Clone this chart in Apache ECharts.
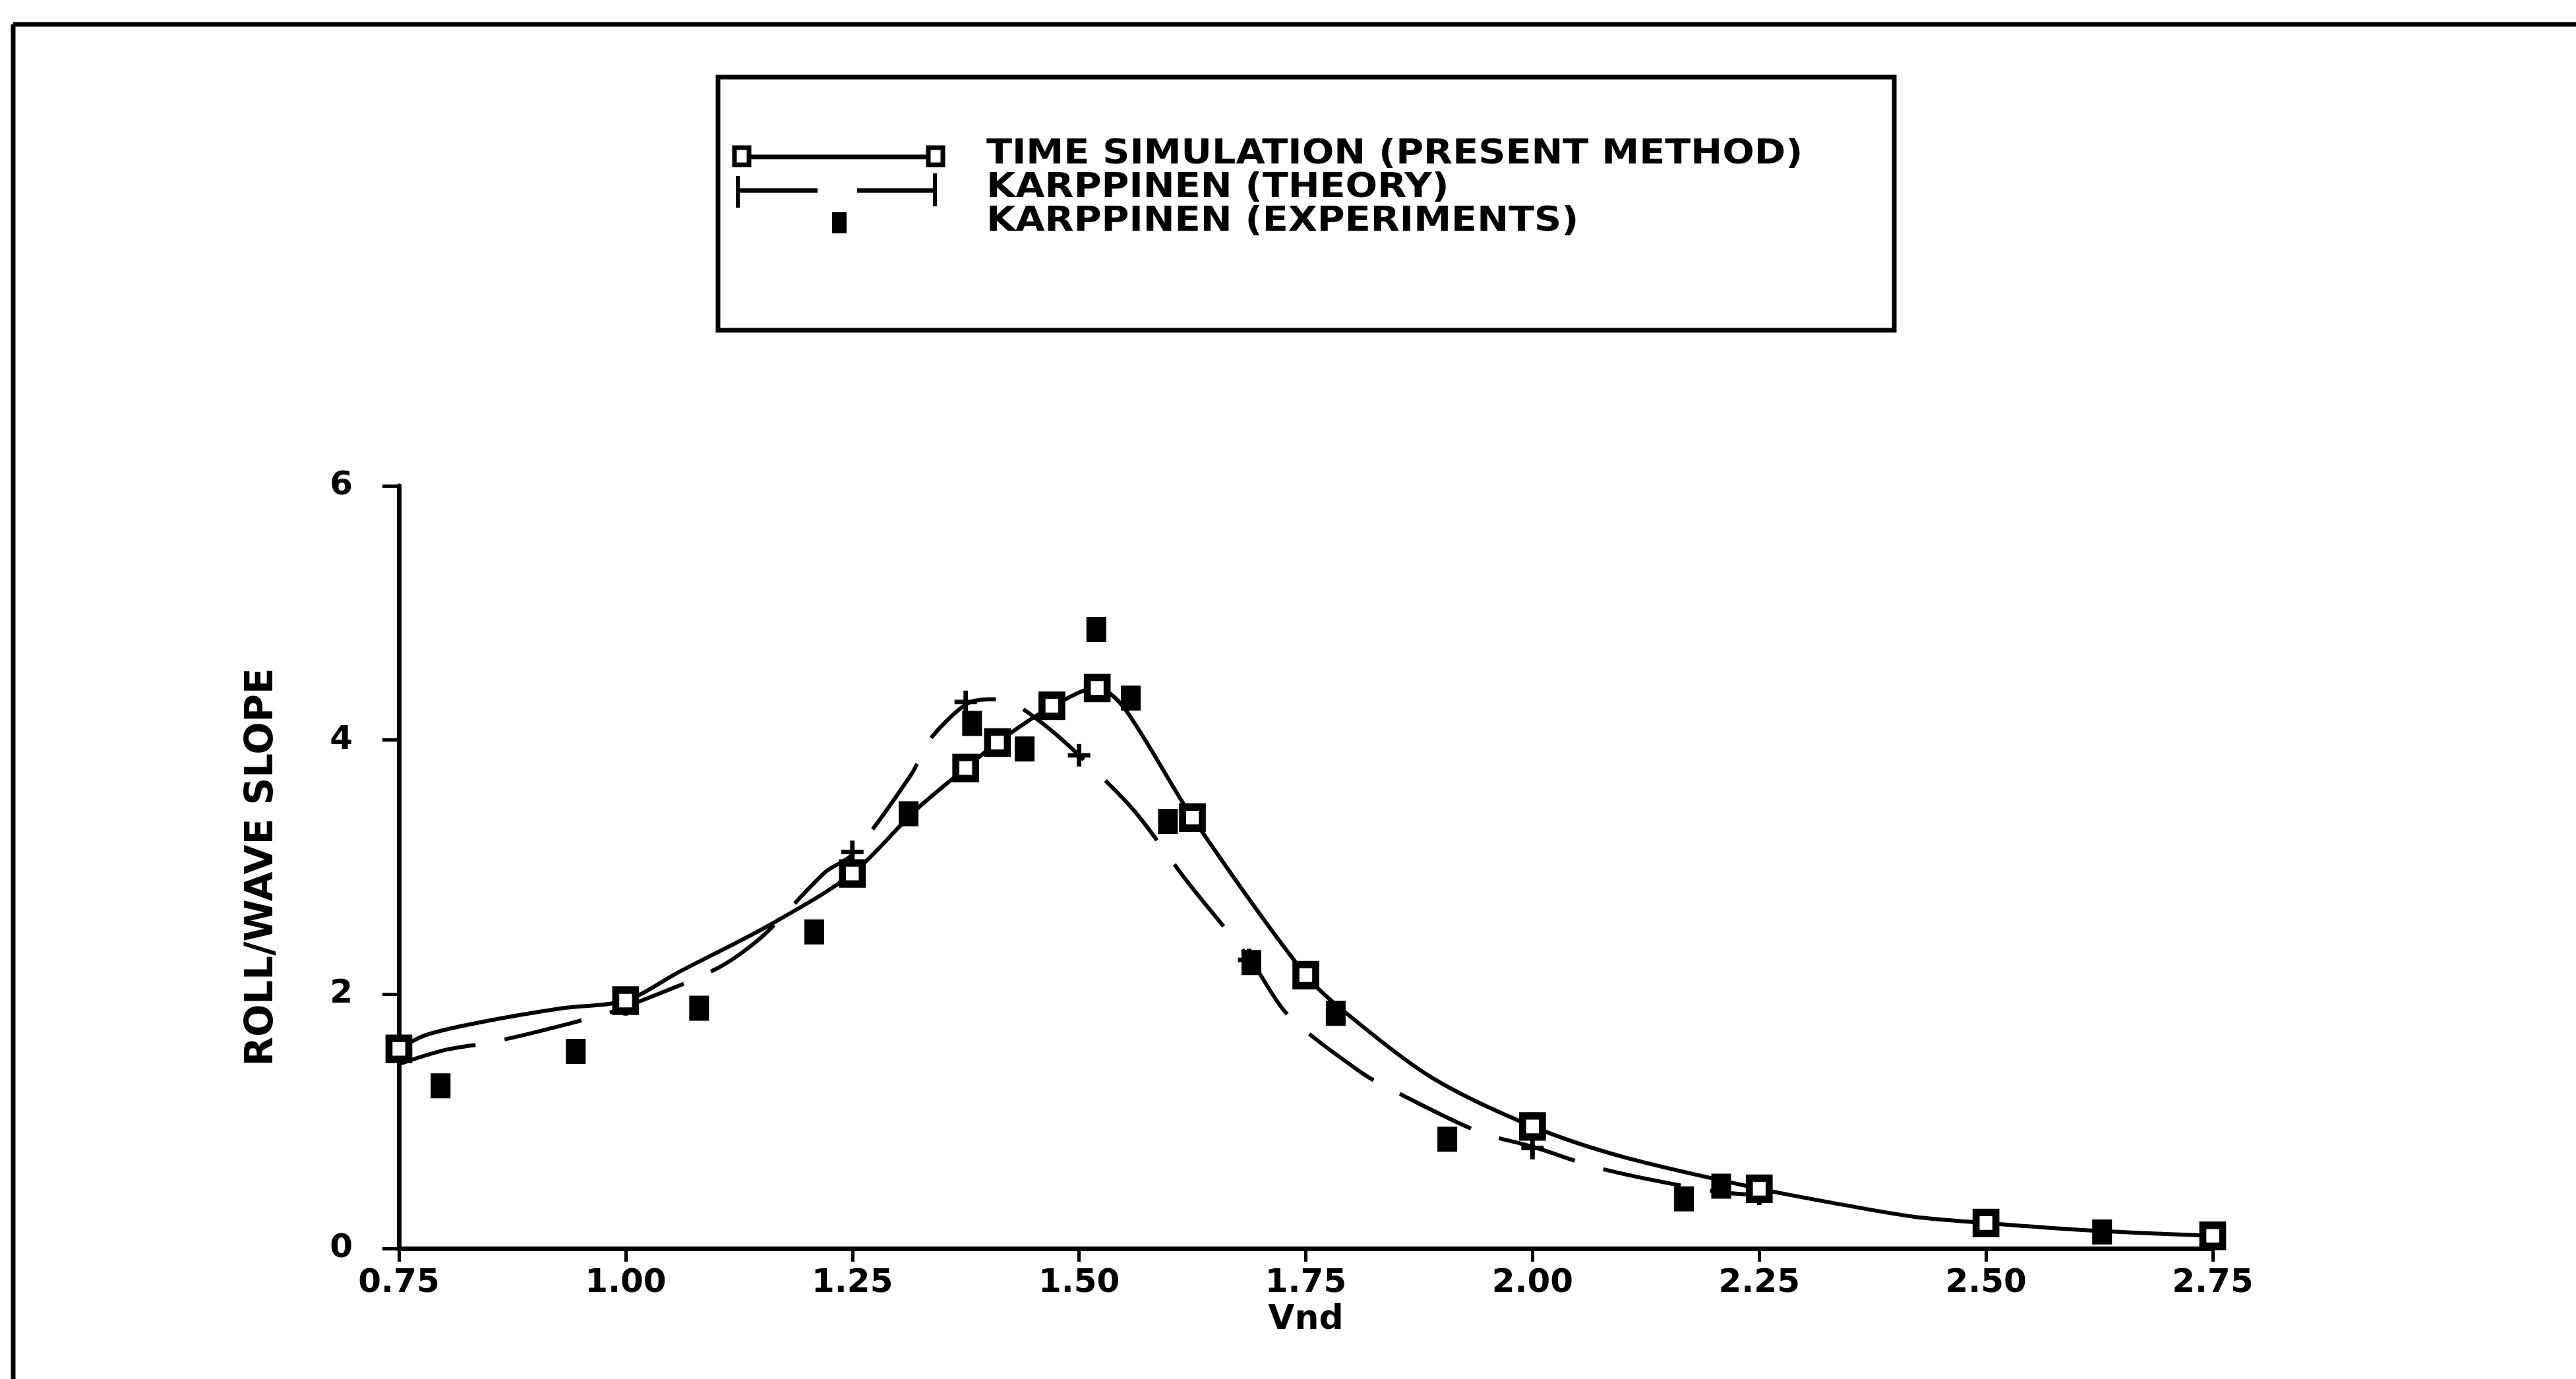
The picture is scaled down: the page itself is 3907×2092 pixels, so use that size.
<!DOCTYPE html>
<html>
<head>
<meta charset="utf-8">
<script src="https://cdn.jsdelivr.net/npm/echarts@6/dist/echarts.min.js"></script>
<style>
  html, body { margin: 0; padding: 0; background: #fff; }
  #chart { width: 3907px; height: 2092px; }
</style>
</head>
<body>
<div id="chart"></div>
<script>
// time simulation (present method) - solid curve trace and its square markers
const simCurveX = [0.75, 0.78, 0.84, 0.93, 1.0, 1.06, 1.16, 1.25, 1.32, 1.375, 1.41, 1.46, 1.52, 1.55, 1.625, 1.75, 1.80, 1.89, 2.0, 2.1, 2.25, 2.33, 2.42, 2.5, 2.62, 2.75]
const simCurveY = [1.57, 1.68, 1.78, 1.89, 1.95, 2.18, 2.55, 2.95, 3.45, 3.78, 3.98, 4.22, 4.41, 4.25, 3.39, 2.15, 1.82, 1.34, 0.96, 0.72, 0.47, 0.36, 0.25, 0.20, 0.14, 0.10]
const simMarkX = [0.75, 1.0, 1.25, 1.375, 1.41, 1.47, 1.52, 1.625, 1.75, 2.0, 2.25, 2.5, 2.75]
const simMarkY = [1.57, 1.95, 2.95, 3.78, 3.98, 4.27, 4.41, 3.39, 2.15, 0.96, 0.47, 0.20, 0.10]

// karppinen theory - dashed curve trace and its + markers
const theoCurveX = [0.75, 0.80, 0.85, 0.90, 0.98, 1.0, 1.10, 1.15, 1.22, 1.25, 1.315, 1.335, 1.375, 1.40, 1.424, 1.46, 1.50, 1.56, 1.62, 1.69, 1.73, 1.81, 1.85, 1.94, 2.0, 2.08, 2.2, 2.25]
const theoCurveY = [1.45, 1.56, 1.62, 1.70, 1.85, 1.90, 2.20, 2.45, 2.96, 3.10, 3.73, 4.00, 4.28, 4.32, 4.30, 4.13, 3.88, 3.45, 2.88, 2.26, 1.84, 1.39, 1.23, 0.92, 0.80, 0.62, 0.45, 0.42]
const theoMarkX = [1.0, 1.25, 1.375, 1.5, 1.6875, 2.0, 2.25]
const theoMarkY = [1.92, 3.12, 4.30, 3.88, 2.27, 0.79, 0.43]

// karppinen experiments
const expX = [0.796, 0.945, 1.081, 1.208, 1.312, 1.382, 1.44, 1.519, 1.557, 1.598, 1.69, 1.783, 1.906, 2.167, 2.208, 2.628]
const expY = [1.28, 1.55, 1.89, 2.49, 3.42, 4.13, 3.93, 4.87, 4.33, 3.36, 2.25, 1.85, 0.86, 0.39, 0.49, 0.13]

const legendNames = ['TIME SIMULATION (PRESENT METHOD)', 'KARPPINEN (THEORY)', 'KARPPINEN (EXPERIMENTS)']
const xName = 'Vnd'
const yName = 'ROLL/WAVE SLOPE'

const FONT = '"DejaVu Sans", sans-serif'
const plusPath = 'path://M4,0h2v4h4v2h-4v4h-2v-4h-4v-2h4z'

function pairs (xs, ys) {
  return xs.map(function (x, i) { return [x, ys[i]] })
}

let chart = echarts.init(document.getElementById('chart'))

// legend box drawn by hand so the samples look like the original plot
let rowY = [234, 285, 336]
let legendGraphic = [
  { type: 'rect', shape: { x: 1089, y: 117, width: 1784, height: 384 }, style: { fill: 'none', stroke: '#000', lineWidth: 7 } },
  // sim sample
  { type: 'line', shape: { x1: 1138, y1: rowY[0] + 4, x2: 1406, y2: rowY[0] + 4 }, style: { stroke: '#000', lineWidth: 7 } },
  { type: 'rect', shape: { x: 1114, y: rowY[0] - 10, width: 22, height: 26 }, style: { fill: '#fff', stroke: '#000', lineWidth: 7 } },
  { type: 'rect', shape: { x: 1408, y: rowY[0] - 10, width: 22, height: 26 }, style: { fill: '#fff', stroke: '#000', lineWidth: 7 } },
  // theory sample
  { type: 'line', shape: { x1: 1119, y1: rowY[1] + 4, x2: 1240, y2: rowY[1] + 4 }, style: { stroke: '#000', lineWidth: 7 } },
  { type: 'line', shape: { x1: 1300, y1: rowY[1] + 4, x2: 1418, y2: rowY[1] + 4 }, style: { stroke: '#000', lineWidth: 7 } },
  { type: 'line', shape: { x1: 1119, y1: rowY[1] - 18, x2: 1119, y2: rowY[1] + 30 }, style: { stroke: '#000', lineWidth: 6 } },
  { type: 'line', shape: { x1: 1418, y1: rowY[1] - 22, x2: 1418, y2: rowY[1] + 28 }, style: { stroke: '#000', lineWidth: 6 } },
  // experiments sample
  { type: 'rect', shape: { x: 1262, y: rowY[2] - 14, width: 22, height: 32 }, style: { fill: '#000' } }
]
legendNames.forEach(function (name, i) {
  legendGraphic.push({
    type: 'text', x: 1496, y: rowY[i], scaleX: 1.10,
    style: { text: name, font: 'bold 52px ' + FONT, fill: '#000', verticalAlign: 'middle', align: 'left' }
  })
})

chart.setOption({
  backgroundColor: '#fff',
  animation: false,
  grid: { left: 605, right: 551, top: 737, bottom: 198, containLabel: false },
  xAxis: {
    type: 'value',
    min: 0.75,
    max: 2.75,
    interval: 0.25,
    name: xName,
    nameLocation: 'middle',
    nameGap: 78,
    nameTextStyle: { color: '#000', fontFamily: FONT, fontWeight: 'bold', fontSize: 52 },
    splitLine: { show: false },
    axisLine: { lineStyle: { color: '#000', width: 7 } },
    axisTick: { length: 20, lineStyle: { color: '#000', width: 5 } },
    axisLabel: {
      color: '#000', fontFamily: FONT, fontWeight: 'bold', fontSize: 50, margin: 28,
      showMinLabel: true, showMaxLabel: true,
      formatter: function (v) { return v.toFixed(2) }
    }
  },
  yAxis: {
    type: 'value',
    min: 0,
    max: 6,
    interval: 2,
    name: yName,
    nameLocation: 'middle',
    nameGap: 178,
    nameTextStyle: { color: '#000', fontFamily: FONT, fontWeight: 'bold', fontSize: 58 },
    splitLine: { show: false },
    axisLine: { show: true, lineStyle: { color: '#000', width: 7 } },
    axisTick: { show: true, length: 25, lineStyle: { color: '#000', width: 5 } },
    axisLabel: { color: '#000', fontFamily: FONT, fontWeight: 'bold', fontSize: 50, margin: 70 }
  },
  graphic: [
    // outer frame (top and left edges visible in the scan)
    { type: 'line', shape: { x1: 20, y1: 37, x2: 3907, y2: 37 }, style: { stroke: '#000', lineWidth: 7 } },
    { type: 'line', shape: { x1: 20, y1: 37, x2: 20, y2: 2092 }, style: { stroke: '#000', lineWidth: 7 } }
  ].concat(legendGraphic),
  series: [
    {
      name: legendNames[0],
      type: 'line',
      data: pairs(simCurveX, simCurveY),
      smooth: 0.3,
      showSymbol: false,
      lineStyle: { color: '#000', width: 6 },
      z: 3
    },
    {
      name: legendNames[0] + ' markers',
      type: 'scatter',
      data: pairs(simMarkX, simMarkY),
      symbol: 'rect',
      symbolSize: [30, 32],
      itemStyle: { color: '#fff', borderColor: '#000', borderWidth: 11, opacity: 1 },
      z: 5
    },
    {
      name: legendNames[1],
      type: 'line',
      data: pairs(theoCurveX, theoCurveY),
      smooth: 0.3,
      showSymbol: false,
      lineStyle: { color: '#000', width: 6, type: [120, 45] },
      z: 3
    },
    {
      name: legendNames[1] + ' markers',
      type: 'scatter',
      data: pairs(theoMarkX, theoMarkY),
      symbol: plusPath,
      symbolSize: 34,
      itemStyle: { color: '#000', opacity: 1 },
      z: 4
    },
    {
      name: legendNames[2],
      type: 'scatter',
      data: pairs(expX, expY),
      symbol: 'rect',
      symbolSize: [30, 38],
      itemStyle: { color: '#000', opacity: 1 },
      z: 6
    }
  ]
})
</script>
</body>
</html>
